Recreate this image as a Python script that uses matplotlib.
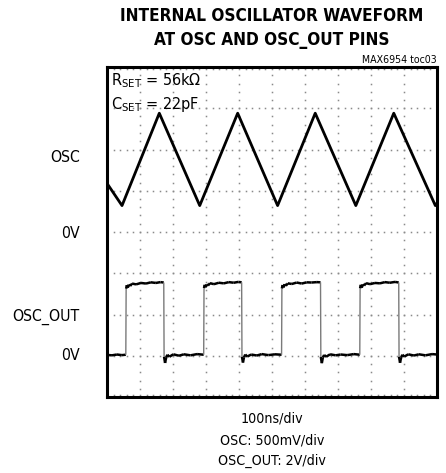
import matplotlib
matplotlib.use("Agg")
import matplotlib.pyplot as plt
import numpy as np
from matplotlib import font_manager
from matplotlib.collections import LineCollection

# pick a narrow sans if one is installed
names = {(f.name, f.stretch) for f in font_manager.fontManager.ttflist}
family, stretch = "Liberation Sans", "normal"
for n, s in [("Liberation Sans Narrow", "condensed"), ("Liberation Sans Narrow", "normal"),
             ("Roboto Condensed", "normal"), ("DejaVu Sans", "condensed"),
             ("DejaVu Sans", "semi-condensed")]:
    if (n, s) in names:
        family, stretch = n, s
        break

plt.rcParams["font.family"] = [family, "DejaVu Sans"]
plt.rcParams["font.stretch"] = stretch
plt.rcParams["mathtext.fontset"] = "custom"
plt.rcParams["mathtext.rm"] = family

# OSC trace (triangle), time in ns, volts
osc_t = [0, 45.5, 158.5, 281, 396, 517, 631, 754, 869, 995, 1000]
osc_v = [0.59, 0.32, 1.44, 0.32, 1.44, 0.32, 1.44, 0.32, 1.44, 0.32, 0.35]

# OSC_OUT trace (square wave), time in ns, volts
out_t = [0, 15, 30, 45, 57,
         58, 60, 63, 66, 70, 76, 88, 103, 118, 133, 148, 162, 172,
         173, 176, 179, 183, 189, 201, 218, 233, 253, 273, 293,
         294, 296, 299, 302, 306, 312, 324, 339, 354, 369, 384, 398, 408,
         409, 412, 415, 419, 425, 437, 454, 469, 489, 509, 529,
         530, 532, 535, 538, 542, 548, 560, 575, 590, 605, 620, 636, 647,
         648, 651, 654, 658, 664, 676, 693, 708, 728, 748, 766,
         767, 769, 772, 775, 779, 785, 797, 812, 827, 842, 857, 873, 884,
         885, 888, 891, 895, 901, 913, 930, 945, 965, 985, 1000]
out_v = [0.04, 0.02, 0.06, 0.03, 0.05,
         3.25, 3.42, 3.30, 3.45, 3.38, 3.50, 3.46, 3.53, 3.50, 3.56, 3.53, 3.57, 3.55,
         -0.05, -0.35, -0.10, 0.05, -0.05, 0.07, 0.00, 0.07, 0.02, 0.08, 0.05,
         3.28, 3.44, 3.32, 3.46, 3.40, 3.52, 3.47, 3.54, 3.51, 3.57, 3.54, 3.58, 3.56,
         -0.05, -0.33, -0.08, 0.06, -0.04, 0.06, 0.01, 0.08, 0.03, 0.07, 0.05,
         3.26, 3.43, 3.31, 3.47, 3.39, 3.51, 3.48, 3.55, 3.50, 3.56, 3.55, 3.57, 3.56,
         -0.06, -0.36, -0.09, 0.04, -0.05, 0.07, 0.02, 0.06, 0.03, 0.08, 0.05,
         3.27, 3.44, 3.30, 3.46, 3.40, 3.52, 3.47, 3.53, 3.51, 3.57, 3.54, 3.58, 3.55,
         -0.05, -0.34, -0.10, 0.05, -0.04, 0.07, 0.01, 0.07, 0.02, 0.08, 0.06]

# scope settings: volts per division and ground level (divisions from bottom)
osc_scale, osc_zero = 0.5, 4
out_scale, out_zero = 2.0, 1

ytick_pos = [5.85, 4, 2, 1.05]
ytick_lab = ["OSC", "0V", "OSC_OUT", "0V"]

fig = plt.figure(figsize=(4.46, 4.73), dpi=100)
ax = fig.add_axes([107 / 446, 76 / 473, 330 / 446, 330 / 473])
ax.set_xlim(0, 1000)
ax.set_ylim(0, 8)

# dotted graticule
for c in range(1, 10):
    yy = np.arange(0, 8.01, 0.2)
    ax.plot(np.full_like(yy, c * 100), yy, ls="none", marker="s", ms=1.1, color="#8a8a8a", mew=0)
for r in [0.06, 1, 2, 3, 4, 5, 6, 7, 7.94]:
    xx = np.arange(0, 1000.1, 20)
    ax.plot(xx, np.full_like(xx, r), ls="none", marker="s", ms=1.1, color="#8a8a8a", mew=0)

ax.plot(osc_t, osc_zero + np.array(osc_v) / osc_scale, color="black", lw=2.0, zorder=3)

oy = out_zero + np.array(out_v) / out_scale
pts = np.column_stack([out_t, oy])
segs = np.stack([pts[:-1], pts[1:]], axis=1)
edge = np.abs(np.diff(oy)) > 0.5
cols = ["#7a7a7a" if e else "black" for e in edge]
lws = [1.0 if e else 1.8 for e in edge]
ax.add_collection(LineCollection(segs, colors=cols, linewidths=lws, zorder=3))

ax.set_xticks([])
ax.set_yticks(ytick_pos)
ax.set_yticklabels(ytick_lab, fontsize=11.3)
ax.tick_params(axis="y", length=0, pad=19.5)
for s in ax.spines.values():
    s.set_linewidth(2.2)

ax.text(0.012, 0.986, r"R$_\mathrm{SET}$ = 56k$\Omega$", transform=ax.transAxes,
        fontsize=11.6, va="top", ha="left")
ax.text(0.012, 0.916, r"C$_\mathrm{SET}$ = 22pF", transform=ax.transAxes,
        fontsize=11.6, va="top", ha="left")

fig.text(272 / 446, 1 - 16 / 473, "INTERNAL OSCILLATOR WAVEFORM", ha="center", va="center",
         fontsize=12.3, fontweight="bold")
fig.text(272 / 446, 1 - 40 / 473, "AT OSC AND OSC_OUT PINS", ha="center", va="center",
         fontsize=12.3, fontweight="bold")
fig.text(437 / 446, 1 - 60 / 473, "MAX6954 toc03", ha="right", va="center", fontsize=7.6)

fig.text(272 / 446, 1 - 418 / 473, "100ns/div", ha="center", va="center", fontsize=10.2)
fig.text(272 / 446, 1 - 440 / 473, "OSC: 500mV/div", ha="center", va="center", fontsize=10.2)
fig.text(272 / 446, 1 - 461 / 473, "OSC_OUT: 2V/div", ha="center", va="center", fontsize=10.2)

fig.savefig("out.png", dpi=100)
